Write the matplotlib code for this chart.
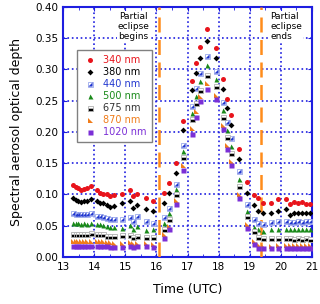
import numpy as np
import matplotlib
matplotlib.use("Agg")
import matplotlib.pyplot as plt
from matplotlib.legend_handler import HandlerTuple

# time (UTC hours)
t = [13.33, 13.41, 13.49, 13.58, 13.68, 13.76, 13.90, 14.08, 14.19, 14.30, 14.41, 14.51, 14.65,
     14.89, 15.15, 15.26, 15.39, 15.67, 15.90,
     16.26, 16.39, 16.63, 16.87, 17.15, 17.28, 17.40, 17.64, 17.92, 18.15, 18.28, 18.40, 18.66, 18.90,
     19.14, 19.28, 19.42, 19.68, 19.92, 20.17, 20.28, 20.41, 20.55, 20.68, 20.81, 20.92]

aod_340 = [0.115, 0.112, 0.110, 0.107, 0.109, 0.110, 0.113, 0.107, 0.103, 0.101, 0.101, 0.097, 0.099,
           0.101, 0.107, 0.098, 0.101, 0.094, 0.090,
           0.102, 0.118, 0.150, 0.218, 0.282, 0.311, 0.336, 0.364, 0.335, 0.285, 0.253, 0.227, 0.173, 0.120,
           0.099, 0.094, 0.087, 0.087, 0.092, 0.092, 0.085, 0.088, 0.087, 0.088, 0.085, 0.085]
aod_380 = [0.094, 0.091, 0.090, 0.088, 0.089, 0.089, 0.093, 0.089, 0.086, 0.086, 0.083, 0.080, 0.081,
           0.086, 0.090, 0.078, 0.083, 0.076, 0.074,
           0.086, 0.102, 0.135, 0.203, 0.267, 0.295, 0.319, 0.346, 0.319, 0.268, 0.238, 0.211, 0.156, 0.103,
           0.083, 0.073, 0.070, 0.070, 0.073, 0.076, 0.067, 0.070, 0.071, 0.071, 0.070, 0.071]
aod_440 = [0.070, 0.069, 0.069, 0.068, 0.068, 0.068, 0.070, 0.066, 0.065, 0.064, 0.062, 0.060, 0.061,
           0.060, 0.064, 0.058, 0.065, 0.057, 0.055,
           0.064, 0.078, 0.116, 0.179, 0.242, 0.270, 0.295, 0.322, 0.297, 0.248, 0.216, 0.190, 0.138, 0.084,
           0.060, 0.055, 0.052, 0.056, 0.057, 0.057, 0.056, 0.056, 0.057, 0.056, 0.057, 0.057]
aod_500 = [0.055, 0.054, 0.054, 0.053, 0.054, 0.053, 0.055, 0.053, 0.052, 0.051, 0.050, 0.048, 0.048,
           0.047, 0.051, 0.045, 0.050, 0.043, 0.044,
           0.055, 0.070, 0.108, 0.170, 0.231, 0.258, 0.282, 0.307, 0.284, 0.235, 0.203, 0.177, 0.125, 0.073,
           0.048, 0.044, 0.041, 0.044, 0.045, 0.045, 0.044, 0.044, 0.045, 0.044, 0.044, 0.044]
aod_675 = [0.037, 0.037, 0.036, 0.036, 0.036, 0.036, 0.038, 0.037, 0.036, 0.036, 0.034, 0.034, 0.034,
           0.035, 0.035, 0.032, 0.034, 0.032, 0.032,
           0.045, 0.060, 0.100, 0.160, 0.220, 0.247, 0.267, 0.291, 0.273, 0.224, 0.192, 0.166, 0.113, 0.065,
           0.041, 0.032, 0.030, 0.030, 0.031, 0.031, 0.030, 0.029, 0.030, 0.029, 0.030, 0.029]
aod_870 = [0.026, 0.026, 0.025, 0.025, 0.026, 0.025, 0.026, 0.026, 0.025, 0.026, 0.024, 0.024, 0.023,
           0.023, 0.024, 0.022, 0.023, 0.022, 0.021,
           0.036, 0.049, 0.091, 0.147, 0.206, 0.233, 0.258, 0.278, 0.259, 0.211, 0.179, 0.153, 0.100, 0.053,
           0.026, 0.020, 0.017, 0.017, 0.019, 0.019, 0.019, 0.019, 0.019, 0.019, 0.019, 0.019]
aod_1020 = [0.018, 0.018, 0.017, 0.017, 0.018, 0.017, 0.018, 0.018, 0.018, 0.018, 0.017, 0.016, 0.016,
            0.016, 0.017, 0.016, 0.017, 0.017, 0.016,
            0.030, 0.044, 0.085, 0.139, 0.197, 0.224, 0.249, 0.268, 0.253, 0.205, 0.173, 0.147, 0.094, 0.047,
            0.020, 0.014, 0.014, 0.014, 0.015, 0.015, 0.014, 0.014, 0.014, 0.014, 0.014, 0.014]

eclipse_begin = 16.08
eclipse_end = 19.35

blue = '#1e1ee0'
ms = 3.6
tri_lr = [(1, -1), (1, 1), (-1, -1)]
tri_ll = [(-1, -1), (1, -1), (-1, 1)]

fig = plt.figure(figsize=(3.2, 3.04), dpi=100)
ax = fig.add_axes([0.197, 0.155, 0.778, 0.822])

h340, = ax.plot(t, aod_340, 'o', color='#e8141c', ms=ms, mec='none', zorder=5)
h380, = ax.plot(t, aod_380, 'D', color='black', ms=3.0, mec='none', zorder=5)
h440a, = ax.plot(t, aod_440, 's', mfc='white', mec='#9aa8ec', mew=0.6, ms=ms, zorder=4)
h440b, = ax.plot(t, aod_440, marker=tri_lr, ls='none', color='#2238d0', ms=ms - 0.6, mec='none', zorder=4)
h500, = ax.plot(t, aod_500, '^', color='#1a8a1a', ms=ms, mec='none', zorder=4)
h675, = ax.plot(t, aod_675, 's', fillstyle='bottom', mfc='black', mfcalt='white', mec='#b0b0b0',
                mew=0.6, ms=ms, zorder=4)
h870, = ax.plot(t, aod_870, marker=tri_ll, ls='none', color='#f07c1a', ms=ms, mec='none', zorder=4)
h1020, = ax.plot(t, aod_1020, 's', color='#7b2fd6', ms=ms, mec='none', zorder=4)

for x in (eclipse_begin, eclipse_end):
    ax.axvline(x, color='#ff8c1a', lw=1.8, dashes=(6, 3), zorder=3)

ax.set_xlim(13, 21)
ax.set_ylim(0, 0.40)
ax.set_xticks(np.arange(13, 22, 1))
ax.set_xticks(np.arange(13.5, 21, 1), minor=True)
ax.set_yticks(np.arange(0, 0.41, 0.05))
ax.yaxis.set_major_formatter(plt.FormatStrFormatter('%.2f'))
ax.grid(True, which='major', color=blue, ls=':', lw=1.2, zorder=1)
ax.set_axisbelow(True)
for s in ax.spines.values():
    s.set_color(blue)
    s.set_linewidth(1.5)
ax.tick_params(which='both', direction='in', color=blue, top=True, right=True, labelsize=7.5)
ax.tick_params(which='major', length=3)
ax.tick_params(which='minor', length=2.5)

ax.set_xlabel('Time (UTC)', fontsize=9, labelpad=8)
ax.set_ylabel('Spectral aerosol optical depth', fontsize=9, labelpad=9)

ax.text(15.26, 0.392, 'Partial\neclipse\nbegins', ha='center', va='top', fontsize=6.5,
        linespacing=1.15, bbox=dict(facecolor='white', edgecolor='none', pad=0.5), zorder=6)
ax.text(19.66, 0.392, 'Partial\neclipse\nends', ha='left', va='top', fontsize=6.5,
        linespacing=1.15, bbox=dict(facecolor='white', edgecolor='none', pad=0.5), zorder=6)

handles = [h340, h380, (h440a, h440b), h500, h675, h870, h1020]
labels = ['340 nm', '380 nm', '440 nm', '500 nm', '675 nm', '870 nm', '1020 nm']
text_colors = ['#e8141c', 'black', '#2238d0', '#1a8a1a', '#333333', '#f07c1a', '#7b2fd6']
leg = ax.legend(handles, labels, loc='upper left', bbox_to_anchor=(0.056, 0.828),
                borderaxespad=0, fontsize=7, fancybox=False, framealpha=1,
                edgecolor='gray', handletextpad=0.5, labelspacing=0.2, borderpad=0.55,
                handlelength=1.6, handler_map={tuple: HandlerTuple(ndivide=1)})
leg.get_frame().set_linewidth(1.0)
leg.set_zorder(7)
for txt, c in zip(leg.get_texts(), text_colors):
    txt.set_color(c)

fig.savefig('out.png', dpi=100)
